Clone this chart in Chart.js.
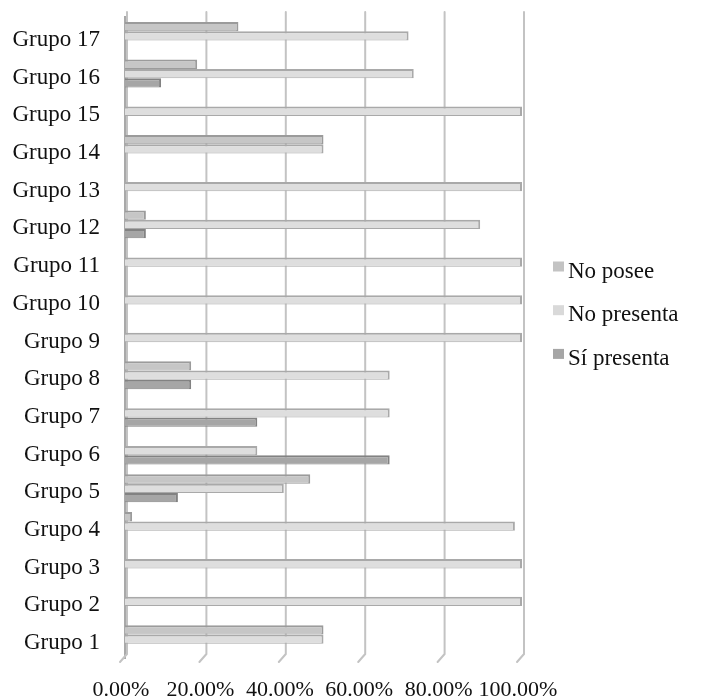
<!DOCTYPE html>
<html>
<head>
<meta charset="utf-8">
<script src="https://cdn.jsdelivr.net/npm/chart.js@4/dist/chart.umd.min.js"></script>
<style>
  html, body { margin: 0; padding: 0; background: #ffffff; }
  #wrap { width: 705px; height: 699px; position: relative; }
</style>
</head>
<body>
<div id="wrap"><canvas id="chart" width="705" height="699"></canvas></div>
<script>
// Categories, bottom to top
const grupos = ['Grupo 1', 'Grupo 2', 'Grupo 3', 'Grupo 4', 'Grupo 5', 'Grupo 6', 'Grupo 7', 'Grupo 8',
  'Grupo 9', 'Grupo 10', 'Grupo 11', 'Grupo 12', 'Grupo 13', 'Grupo 14', 'Grupo 15', 'Grupo 16', 'Grupo 17'];

// Percentages per group
const noPosee    = [50, 0, 0, 1.79, 46.67, 0, 0, 16.67, 0, 0, 0, 5.26, 0, 50, 0, 18.18, 28.57];
const noPresenta = [50, 100, 100, 98.21, 40, 33.33, 66.67, 66.67, 100, 100, 100, 89.47, 100, 50, 100, 72.73, 71.43];
const siPresenta = [0, 0, 0, 0, 13.33, 66.67, 33.33, 16.67, 0, 0, 0, 5.26, 0, 0, 0, 9.09, 0];

// Value axis ticks
const xTicks = [0, 20, 40, 60, 80, 100];

const SERIF = '"Liberation Serif", "Times New Roman", serif';

// Back-wall gridlines with their slanted floor feet
const wallGrid = {
  id: 'wallGrid',
  beforeDatasetsDraw(chart) {
    const { ctx, chartArea, scales } = chart;
    const x = scales.x;
    ctx.save();
    ctx.strokeStyle = '#c3c3c3';
    ctx.lineWidth = 2;
    ctx.lineCap = 'round';
    x.ticks.forEach(t => {
      const px = x.getPixelForValue(t.value) + 2;
      ctx.beginPath();
      ctx.moveTo(px, chartArea.top - 5);
      ctx.lineTo(px, chartArea.bottom - 4);
      ctx.lineTo(px - 7, chartArea.bottom + 4);
      ctx.stroke();
    });
    ctx.restore();
  }
};

// Legend to the right of the plot
const sideLegend = {
  id: 'sideLegend',
  afterDraw(chart) {
    const { ctx } = chart;
    const x0 = 553, y0 = 277.5, step = 43.7;
    ctx.save();
    ctx.font = '23px ' + SERIF;
    ctx.textBaseline = 'alphabetic';
    ctx.textAlign = 'left';
    chart.data.datasets.forEach((ds, i) => {
      const base = y0 + i * step;
      ctx.fillStyle = ds.legendColor;
      ctx.fillRect(x0, base - 16, 11, 10);
      ctx.fillStyle = '#111111';
      ctx.fillText(ds.label, x0 + 15, base);
    });
    ctx.restore();
  }
};

// Cylinder-like shading across each bar's thickness
function shaded(edge, mid) {
  return (c) => {
    const el = c.element;
    const area = c.chart.chartArea;
    if (!el || !area || el.height === undefined) return mid;
    const h = el.height || 1;
    const g = c.chart.ctx.createLinearGradient(0, el.y - h / 2, 0, el.y + h / 2);
    g.addColorStop(0, edge);
    g.addColorStop(0.45, mid);
    g.addColorStop(1, edge);
    return g;
  };
}

const barBorder = { top: 2, right: 2, bottom: 1, left: 0 };

new Chart(document.getElementById('chart'), {
  type: 'bar',
  data: {
    labels: grupos,
    datasets: [
      { label: 'No posee', data: noPosee, backgroundColor: shaded('#b4b4b4', '#c6c6c6'), borderColor: '#9b9b9b',
        legendColor: '#c3c3c3', borderWidth: barBorder, borderSkipped: false },
      { label: 'No presenta', data: noPresenta, backgroundColor: shaded('#cdcdcd', '#dedede'), borderColor: '#a9a9a9',
        legendColor: '#d9d9d9', borderWidth: barBorder, borderSkipped: false },
      { label: 'Sí presenta', data: siPresenta, backgroundColor: shaded('#949494', '#a6a6a6'), borderColor: '#828282',
        legendColor: '#a6a6a6', borderWidth: barBorder, borderSkipped: false }
    ]
  },
  options: {
    indexAxis: 'y',
    responsive: false,
    animation: false,
    devicePixelRatio: 1,
    categoryPercentage: 0.74,
    barPercentage: 1.0,
    layout: { padding: { left: 0, right: 183, top: 17, bottom: 0 } },
    plugins: { legend: { display: false }, tooltip: { enabled: false } },
    scales: {
      x: {
        type: 'linear',
        min: 0,
        max: 100,
        afterBuildTicks(scale) { scale.ticks = xTicks.map(v => ({ value: v })); },
        afterFit(scale) {
          scale.height = 41;
          scale.paddingLeft = 0; scale.paddingRight = 0;
          scale.paddingTop = 0; scale.paddingBottom = 0;
        },
        grid: { display: false, drawTicks: false },
        border: { display: false },
        ticks: {
          padding: 19,
          labelOffset: -4,
          maxRotation: 0,
          minRotation: 0,
          autoSkip: false,
          color: '#111111',
          font: { family: SERIF, size: 22 },
          callback: v => Number(v).toFixed(2) + '%'
        }
      },
      y: {
        type: 'category',
        reverse: true,
        afterFit(scale) {
          scale.width = 125;
          scale.paddingLeft = 0; scale.paddingRight = 0;
          scale.paddingTop = 0; scale.paddingBottom = 0;
        },
        grid: { display: false, drawTicks: false },
        border: { display: true, color: '#a9a9a9', width: 2 },
        ticks: {
          padding: 25,
          labelOffset: 4,
          autoSkip: false,
          color: '#111111',
          font: { family: SERIF, size: 23 }
        }
      }
    }
  },
  plugins: [wallGrid, sideLegend]
});
</script>
</body>
</html>
